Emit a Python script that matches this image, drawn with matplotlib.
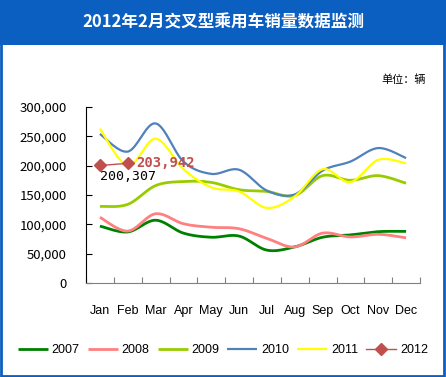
import numpy as np
import matplotlib.pyplot as plt
from matplotlib.patches import Rectangle

plt.rcParams['font.family'] = ['Noto Sans CJK SC', 'DejaVu Sans']

months = ['Jan', 'Feb', 'Mar', 'Apr', 'May', 'Jun', 'Jul', 'Aug', 'Sep', 'Oct', 'Nov', 'Dec']
s2007 = [97000, 87000, 107000, 85000, 78000, 80000, 56000, 61500, 78000, 82000, 87500, 88000]
s2008 = [112000, 88500, 118000, 101000, 95000, 92500, 76000, 61500, 85000, 78500, 83000, 77000]
s2009 = [130500, 134000, 166000, 173000, 171500, 159000, 156000, 149000, 183000, 175000, 183000, 170000]
s2010 = [254000, 224000, 272000, 207000, 186000, 193000, 157500, 151000, 191500, 207000, 230000, 213000]
s2011 = [263000, 200000, 246000, 194000, 163000, 156000, 128000, 147500, 194000, 172000, 210000, 204000]
s2012 = [200307, 203942]

series = [('2007', s2007, '#008000', 2.0),
          ('2008', s2008, '#FF8080', 2.0),
          ('2009', s2009, '#99CC00', 2.0),
          ('2010', s2010, '#4F81BD', 1.6),
          ('2011', s2011, '#FFFF00', 1.6)]


def smooth(y, n=20):
    # Catmull-Rom style curve through the points (like Excel "smoothed line")
    x = np.arange(len(y), dtype=float)
    y = np.asarray(y, dtype=float)
    px = np.concatenate([[x[0]], x, [x[-1]]])
    py = np.concatenate([[y[0]], y, [y[-1]]])
    xs, ys = [], []
    for i in range(1, len(px) - 2):
        t = np.linspace(0, 1, n, endpoint=False)
        for p, out in ((px, xs), (py, ys)):
            p0, p1, p2, p3 = p[i - 1], p[i], p[i + 1], p[i + 2]
            out.extend(0.5 * ((2 * p1) + (-p0 + p2) * t
                              + (2 * p0 - 5 * p1 + 4 * p2 - p3) * t ** 2
                              + (-p0 + 3 * p1 - 3 * p2 + p3) * t ** 3))
    xs.append(x[-1])
    ys.append(y[-1])
    return np.array(xs), np.array(ys)


fig = plt.figure(figsize=(4.46, 3.77), dpi=100)
blue = '#0A5FC0'

# header band and border
fig.patches.append(Rectangle((0, 1 - 45 / 377), 1, 45 / 377, transform=fig.transFigure,
                             facecolor=blue, edgecolor='none', zorder=0))
fig.patches.append(Rectangle((0.002, 0.003), 0.994, 0.99, transform=fig.transFigure,
                             facecolor='none', edgecolor=blue, linewidth=2, zorder=0))
fig.text(0.5, 1 - 22 / 377, '2012年2月交叉型乘用车销量数据监测', color='white',
         fontsize=12, fontweight='bold', ha='center', va='center')
fig.text(0.955, 1 - 80 / 377, '单位：辆', fontsize=8, ha='right', va='center')

ax = fig.add_axes([86 / 446, 1 - 283 / 377, 334 / 446, 176 / 377])

for name, vals, color, lw in series:
    xs, ys = smooth(vals)
    ax.plot(xs, ys, color=color, lw=lw, label=name, solid_capstyle='butt')

ax.plot(range(len(s2012)), s2012, color='#C0504D', lw=1, marker='D', markersize=6,
        label='2012')
ax.text(0, s2012[0] - 7000, f'{s2012[0]:,}', fontsize=9.5, ha='left', va='top',
        family=['DejaVu Sans Mono'])
ax.text(1.3, s2012[1], f'{s2012[1]:,}', fontsize=10, ha='left', va='center',
        color='#C0504D', fontweight='bold', family=['DejaVu Sans Mono'])

ax.set_xlim(-0.5, len(months) - 0.5)
ax.set_ylim(0, 300000)
ax.set_yticks(np.arange(0, 300001, 50000))
ax.set_yticklabels([f'{v:,}' for v in range(0, 300001, 50000)], fontsize=9.5)
ax.set_xticks(np.arange(-0.5, len(months), 1), minor=False)
ax.set_xticklabels([])
ax.set_xticks(np.arange(len(months)), minor=True)
ax.set_xticklabels(months, minor=True, fontsize=9, family=['Liberation Sans'])
ax.tick_params(axis='x', which='major', direction='in', length=4, color='#808080')
ax.tick_params(axis='x', which='minor', length=0, pad=16)
ax.tick_params(axis='y', direction='in', length=4, pad=14)
for s in ['top', 'right']:
    ax.spines[s].set_visible(False)
ax.spines['bottom'].set_color('#808080')
ax.spines['left'].set_color('black')

fig.legend(loc='center', bbox_to_anchor=(0.5, 1 - 350 / 377), ncol=6, frameon=False,
           handlelength=2.4, columnspacing=0.65, handletextpad=0.3,
           prop={'family': 'Liberation Sans', 'size': 9})

fig.savefig('out.png', dpi=100)
